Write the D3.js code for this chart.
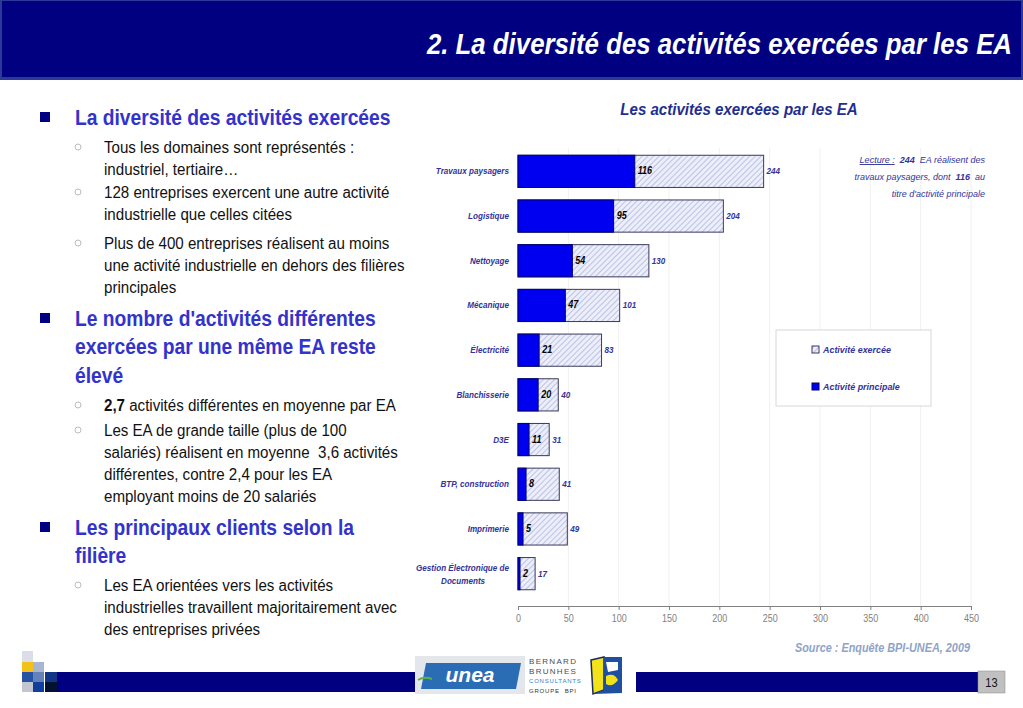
<!DOCTYPE html>
<meta charset="utf-8">
<script src="https://d3js.org/d3.v7.min.js"></script>
<style>
  body { margin: 0; background: #fff; }
  svg { display: block; }
  .narrow { font-family: "Liberation Sans Narrow", "Arial Narrow", "Liberation Sans", Arial, sans-serif; }
  .arial { font-family: "Liberation Sans", Arial, sans-serif; }
</style>
<div id="slide"></div>
<script>
// Chart data
var categories = ["Travaux paysagers", "Logistique", "Nettoyage", "Mécanique", "Électricité",
                  "Blanchisserie", "D3E", "BTP, construction", "Imprimerie", "Gestion Électronique de Documents"];
var exercee    = [244, 204, 130, 101, 83, 40, 31, 41, 49, 17];
var principale = [116, 95, 54, 47, 21, 20, 11, 8, 5, 2];
var xTicks     = [0, 50, 100, 150, 200, 250, 300, 350, 400, 450];

var W = 1023, H = 708;
var svg = d3.select("#slide").append("svg")
    .attr("width", W)
    .attr("height", H);

// no narrow font installed: squeeze text horizontally around its anchor
function squeeze(sel, k) {
  sel.attr("transform", function() {
    var t = d3.select(this), x0 = +t.attr("x") || 0, y0 = +t.attr("y") || 0;
    return "translate(" + x0 + "," + y0 + ") scale(" + k + ",1) translate(" + (-x0) + "," + (-y0) + ")";
  });
  return sel;
}

// hatch pattern for "activité exercée"
var defs = svg.append("defs");
var pat = defs.append("pattern")
    .attr("id", "hatch")
    .attr("patternUnits", "userSpaceOnUse")
    .attr("width", 4).attr("height", 4)
    .attr("patternTransform", "rotate(45)");
pat.append("rect").attr("width", 4).attr("height", 4).attr("fill", "#eceefa");
pat.append("line").attr("x1", 0).attr("y1", 0).attr("x2", 0).attr("y2", 4)
    .attr("stroke", "#a3abd9").attr("stroke-width", 1.3);

// ---- header ----
svg.append("rect").attr("x", 0).attr("y", 0).attr("width", W).attr("height", 80).attr("fill", "#2b3a9a");
svg.append("rect").attr("x", 2).attr("y", 1).attr("width", W - 4).attr("height", 76).attr("fill", "#000080");
svg.append("text")
    .attr("class", "narrow")
    .attr("x", 1012).attr("y", 54)
    .attr("text-anchor", "end")
    .attr("fill", "#fff")
    .style("font-size", "29px").style("font-weight", "bold").style("font-style", "italic")
    .text("2. La diversité des activités exercées par les EA")
    .call(squeeze, 0.89);

// ---- left text ----
var left = svg.append("g");
var headings = [
  {lines: ["La diversité des activités exercées"], y: 117},
  {lines: ["Le nombre d'activités différentes", "exercées par une même EA reste", "élevé"], y: 318},
  {lines: ["Les principaux clients selon la", "filière"], y: 527}
];
headings.forEach(function(h) {
  left.append("rect").attr("x", 40).attr("y", h.y - 5).attr("width", 10).attr("height", 10).attr("fill", "#000080");
  h.lines.forEach(function(l, i) {
    left.append("text").attr("class", "narrow")
      .attr("x", 75).attr("y", h.y + 8 + i * 28.5)
      .attr("fill", "#3333cc")
      .style("font-size", "22px").style("font-weight", "bold")
      .text(l)
      .call(squeeze, 0.875);
  });
});

var subs = [
  {lines: ["Tous les domaines sont représentés :", "industriel, tertiaire…"], y: 147},
  {lines: ["128 entreprises exercent une autre activité", "industrielle que celles citées"], y: 192},
  {lines: ["Plus de 400 entreprises réalisent au moins", "une activité industrielle en dehors des filières", "principales"], y: 243},
  {lines: [""], y: 405, rich: true},
  {lines: ["Les EA de grande taille (plus de 100", "salariés) réalisent en moyenne  3,6 activités", "différentes, contre 2,4 pour les EA", "employant moins de 20 salariés"], y: 430},
  {lines: ["Les EA orientées vers les activités", "industrielles travaillent majoritairement avec", "des entreprises privées"], y: 585}
];
subs.forEach(function(s) {
  left.append("circle").attr("cx", 78).attr("cy", s.y).attr("r", 3)
    .attr("fill", "none").attr("stroke", "#bcbcbc").attr("stroke-width", 1);
  if (s.rich) {
    var t = left.append("text").attr("class", "arial")
      .attr("x", 104).attr("y", s.y + 6)
      .attr("fill", "#111").style("font-size", "16px");
    t.append("tspan").style("font-weight", "bold").text("2,7");
    t.append("tspan").text(" activités différentes en moyenne par EA");
    squeeze(t, 0.945);
    return;
  }
  s.lines.forEach(function(l, i) {
    left.append("text").attr("class", "arial")
      .attr("x", 104).attr("y", s.y + 6 + i * 22)
      .attr("fill", "#111").style("font-size", "16px")
      .style("white-space", "pre")
      .text(l)
      .call(squeeze, 0.945);
  });
});

// ---- chart ----
var x = d3.scaleLinear().domain([0, 450]).range([518, 971]);
var y = d3.scaleBand().domain(categories).range([149, 596]).paddingInner(0.28).paddingOuter(0.14);
var axisY = 606;

svg.append("text").attr("class", "narrow")
    .attr("x", 739).attr("y", 115)
    .attr("text-anchor", "middle")
    .attr("fill", "#1f2f8f")
    .style("font-size", "16px").style("font-weight", "bold").style("font-style", "italic")
    .text("Les activités exercées par les EA")
    .call(squeeze, 0.944);

// faint vertical grid
svg.append("g").selectAll("line")
  .data(xTicks.slice(1))
  .enter().append("line")
    .attr("x1", function(d) { return x(d); }).attr("x2", function(d) { return x(d); })
    .attr("y1", 148).attr("y2", axisY)
    .attr("stroke", "#f0f0f0").attr("stroke-width", 1);

// x axis
var xAxis = svg.append("g")
    .attr("transform", "translate(0," + axisY + ")")
    .call(d3.axisBottom(x).tickValues(xTicks).tickSize(4).tickSizeOuter(0));
xAxis.select(".domain").attr("stroke", "#808080");
xAxis.selectAll(".tick line").attr("stroke", "#808080");
xAxis.selectAll(".tick text")
    .attr("class", "narrow")
    .attr("fill", "#7f7f7f")
    .attr("dy", "0.9em")
    .style("font-size", "10px")
    .call(squeeze, 0.9);

var rows = categories.map(function(c, i) { return {cat: c, ex: exercee[i], pr: principale[i]}; });

// exercée (total) bars
svg.append("g").selectAll("rect")
  .data(rows)
  .enter().append("rect")
    .attr("x", x(0))
    .attr("y", function(d) { return y(d.cat); })
    .attr("width", function(d) { return x(d.ex) - x(0); })
    .attr("height", y.bandwidth())
    .attr("fill", "url(#hatch)")
    .attr("stroke", "#3a3a5a").attr("stroke-width", 1);

// principale bars
svg.append("g").selectAll("rect")
  .data(rows)
  .enter().append("rect")
    .attr("x", x(0))
    .attr("y", function(d) { return y(d.cat); })
    .attr("width", function(d) { return x(d.pr) - x(0); })
    .attr("height", y.bandwidth())
    .attr("fill", "#0000f0")
    .attr("stroke", "#00006a").attr("stroke-width", 1);

// labels inside (principale)
svg.append("g").selectAll("text")
  .data(rows)
  .enter().append("text")
    .attr("class", "narrow")
    .attr("x", function(d) { return x(d.pr) + 3; })
    .attr("y", function(d) { return y(d.cat) + y.bandwidth() / 2 + 3; })
    .attr("fill", "#000")
    .style("font-size", "10px").style("font-weight", "bold").style("font-style", "italic")
    .text(function(d) { return d.pr; })
    .call(squeeze, 0.9);

// labels outside (exercée)
svg.append("g").selectAll("text")
  .data(rows)
  .enter().append("text")
    .attr("class", "narrow")
    .attr("x", function(d) { return x(d.ex) + 3; })
    .attr("y", function(d) { return y(d.cat) + y.bandwidth() / 2 + 3; })
    .attr("fill", "#333399")
    .style("font-size", "9px").style("font-weight", "bold").style("font-style", "italic")
    .text(function(d) { return d.ex; })
    .call(squeeze, 0.9);

// category labels
var catLab = svg.append("g").selectAll("text")
  .data(rows)
  .enter().append("text")
    .attr("class", "narrow")
    .attr("x", 509)
    .attr("y", function(d) { return y(d.cat) + y.bandwidth() / 2 + 3; })
    .attr("text-anchor", "end")
    .attr("fill", "#333399")
    .style("font-size", "9px").style("font-weight", "bold").style("font-style", "italic");
catLab.each(function(d) {
  var t = d3.select(this);
  if (d.cat === "Gestion Électronique de Documents") {
    t.append("tspan").attr("x", 509).attr("dy", "-0.65em").text("Gestion Électronique de");
    t.append("tspan").attr("x", 458).attr("text-anchor", "middle").attr("dy", "1.45em").text("Documents");
  } else {
    t.text(d.cat);
  }
});
catLab.call(squeeze, 0.9);

// legend
var leg = svg.append("g");
leg.append("rect").attr("x", 776).attr("y", 330).attr("width", 155).attr("height", 76)
    .attr("fill", "#fff").attr("stroke", "#d8d8d8");
var legItems = [{label: "Activité exercée", fill: "url(#hatch)", stroke: "#3a3a5a", y: 350},
                {label: "Activité principale", fill: "#0000f0", stroke: "#00006a", y: 387}];
legItems.forEach(function(it) {
  leg.append("rect").attr("x", 812).attr("y", it.y - 4).attr("width", 7).attr("height", 7)
    .attr("fill", it.fill).attr("stroke", it.stroke);
  leg.append("text").attr("class", "narrow")
    .attr("x", 823).attr("y", it.y + 3)
    .attr("fill", "#333399")
    .style("font-size", "9.5px").style("font-weight", "bold").style("font-style", "italic")
    .text(it.label)
    .call(squeeze, 0.94);
});

// lecture note
var note = svg.append("g").attr("class", "narrow")
    .style("font-size", "9.5px").style("font-style", "italic").attr("fill", "#333399");
var n1 = note.append("text").attr("x", 985).attr("y", 163).attr("text-anchor", "end").style("white-space", "pre");
n1.append("tspan").style("text-decoration", "underline").text("Lecture :");
n1.append("tspan").text("  ");
n1.append("tspan").style("font-weight", "bold").text("244");
n1.append("tspan").text("  EA réalisent des");
var n2 = note.append("text").attr("x", 985).attr("y", 180).attr("text-anchor", "end").style("white-space", "pre");
n2.append("tspan").text("travaux paysagers, dont  ");
n2.append("tspan").style("font-weight", "bold").text("116");
n2.append("tspan").text("  au");
note.append("text").attr("x", 985).attr("y", 197).attr("text-anchor", "end").text("titre d'activité principale");
note.selectAll("text").call(squeeze, 0.95);

// source
svg.append("text").attr("class", "narrow")
    .attr("x", 970).attr("y", 652)
    .attr("text-anchor", "end")
    .attr("fill", "#8fa3c8")
    .style("font-size", "12.5px").style("font-weight", "bold").style("font-style", "italic")
    .text("Source : Enquête BPI-UNEA, 2009")
    .call(squeeze, 0.87);

// ---- footer ----
var foot = svg.append("g");
var squares = [
  [22, 651, "#d9dee9"],
  [22, 662, "#f2c21a"], [33, 662, "#a9b6d3"],
  [22, 672, "#2552a3"], [33, 672, "#6482ba"], [45, 672, "#123587"],
  [22, 682, "#c3c6ce"], [33, 682, "#0f3e9f"], [45, 682, "#021230"]
];
squares.forEach(function(s) {
  foot.append("rect").attr("x", s[0]).attr("y", s[1]).attr("width", s[0] === 45 ? 12 : 11).attr("height", s[1] === 651 ? 11 : 10).attr("fill", s[2]);
});
foot.append("rect").attr("x", 57).attr("y", 672).attr("width", 358).attr("height", 20).attr("fill", "#000080");
foot.append("rect").attr("x", 636).attr("y", 672).attr("width", 342).attr("height", 20).attr("fill", "#000080");
foot.append("rect").attr("x", 978).attr("y", 671).attr("width", 27).attr("height", 22).attr("fill", "#c0c0c0").attr("stroke", "#888").attr("stroke-width", 0.5);
foot.append("text").attr("class", "arial")
    .attr("x", 991.5).attr("y", 687).attr("text-anchor", "middle")
    .attr("fill", "#111").style("font-size", "13px")
    .text("13")
    .call(squeeze, 0.85);

// unea logo
foot.append("rect").attr("x", 415).attr("y", 656).attr("width", 110).attr("height", 38).attr("fill", "#e3e6ea");
foot.append("path").attr("d", "M426,663 L521,663 L516,689 L421,689 Z").attr("fill", "#2a6db5");
foot.append("text").attr("class", "arial")
    .attr("x", 470).attr("y", 682).attr("text-anchor", "middle")
    .attr("fill", "#fff")
    .style("font-size", "21px").style("font-weight", "bold").style("font-style", "italic")
    .text("unea");
foot.append("path").attr("d", "M418,680 Q424,676 432,679").attr("fill", "none").attr("stroke", "#5fb04a").attr("stroke-width", 2);

// bernard brunhes logo
var bb = [["BERNARD", 664, "#4a4a5a", 8], ["BRUNHES", 674, "#4a4a5a", 8], ["CONSULTANTS", 683, "#3a7ac0", 6], ["GROUPE  BPI", 693, "#333", 6]];
bb.forEach(function(b) {
  foot.append("text").attr("class", "arial")
    .attr("x", 529).attr("y", b[1])
    .attr("fill", b[2]).style("font-size", b[3] + "px").style("letter-spacing", b[3] === 8 ? "1.3px" : "0.8px")
    .style("white-space", "pre")
    .text(b[0]);
});
foot.append("path").attr("d", "M591,660 L604,657 L604,690 L593,694 Z").attr("fill", "#f2e21a").attr("stroke", "#1a2a5a").attr("stroke-width", 1.5);
foot.append("path").attr("d", "M604,657 L622,657 L622,693 L593,694 L604,690 Z").attr("fill", "#1f4fa0");
foot.append("path").attr("d", "M606,662 L618,662 L618,670 L608,672 Z").attr("fill", "#fff");
foot.append("path").attr("d", "M606,676 Q614,672 618,680 Q612,688 606,684 Z").attr("fill", "#f2e21a");
</script>
